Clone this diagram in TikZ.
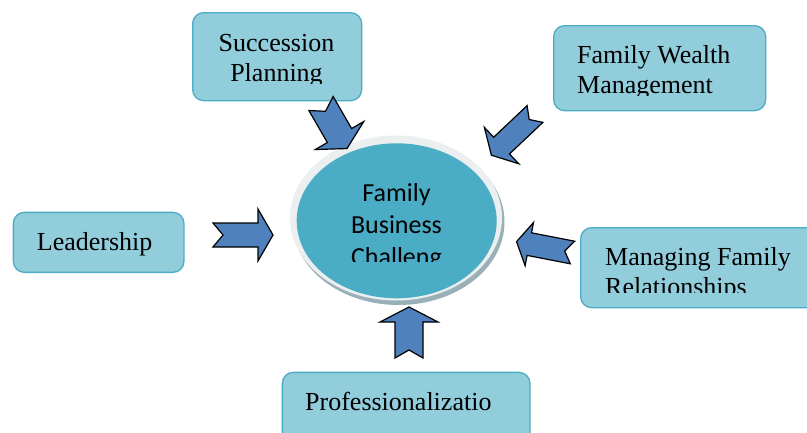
\documentclass[tikz,border=0pt]{standalone}
\usepackage{fontspec}
\setmainfont{Liberation Serif}
\newfontfamily\calfont{Carlito}
\usetikzlibrary{shapes.geometric}
\definecolor{boxfill}{HTML}{92CDDC}
\definecolor{boxline}{HTML}{4BACC6}
\definecolor{ellfill}{HTML}{4BACC6}
\definecolor{arrfill}{HTML}{4F81BD}
\definecolor{ringc}{HTML}{ECEFF0}
\definecolor{shadowc}{HTML}{9AB0B8}
\tikzset{
  box/.style={draw=boxline, fill=boxfill, line width=1.3pt, rounded corners=11pt, inner sep=0pt, anchor=north west},
  boxtext/.style={inner sep=0pt, font=\fontsize{26}{30}\selectfont, text=black},
  elltext/.style={inner sep=0pt, font=\calfont\fontsize{26}{30}\selectfont, text=black, anchor=base},
  blockarrow/.style={draw=black, fill=arrfill, line width=1.2pt, line join=miter},
}
% tail, angle, length, body half, head half, head length, notch
\newcommand{\blockarr}[7]{%
  \begin{scope}[shift={#1}, rotate=#2]
    \draw[blockarrow] (0,#4) -- ({#3-#6},#4) -- ({#3-#6},#5) -- (#3,0)
      -- ({#3-#6},-#5) -- ({#3-#6},-#4) -- (0,-#4) -- (#7,0) -- cycle;
  \end{scope}}
\begin{document}
\begin{tikzpicture}[x=1pt,y=-1pt]
\useasboundingbox (0,0) rectangle (807,432);
\clip (0,0) rectangle (807,432);
\fill[white] (0,0) rectangle (807,432);

% central ellipse
\node[ellipse, fill=shadowc, minimum width=212pt, minimum height=166pt, inner sep=0pt] (shadow) at (398.5,222) {};
\node[ellipse, fill=ringc, minimum width=212pt, minimum height=165pt, inner sep=0pt] (ring) at (396,218) {};
\node[ellipse, fill=ellfill, minimum width=200pt, minimum height=155pt, inner sep=0pt] (core) at (396.7,220.8) {};
\begin{scope}
  \clip (290,140) rectangle (500,261.7);
  \node[elltext] (c1) at (396.5,201.7) {Family};
  \node[elltext] (c2) at (396.5,233.3) {Business};
  \node[elltext] (c3) at (396.5,265) {Challeng};
\end{scope}

% boxes
\node[box, minimum width=169pt, minimum height=88pt] (succ) at (192,12) {};
\begin{scope}
  \clip (192,12) rectangle (361,83.5);
  \node[boxtext, anchor=base] (s1) at (276.5,51.7) {Succession};
  \node[boxtext, anchor=base] (s2) at (276.5,81.7) {Planning};
\end{scope}

\node[box, minimum width=212pt, minimum height=85pt] (wealth) at (553,25) {};
\begin{scope}
  \clip (553,25) rectangle (765,95);
  \node[boxtext, anchor=base west] (w1) at (577,63.3) {Family Wealth};
  \node[boxtext, anchor=base west] (w2) at (577,93.3) {Management};
\end{scope}

\node[box, minimum width=170.6pt, minimum height=60pt] (lead) at (12.7,211.7) {};
\node[boxtext, anchor=base west] (l1) at (36.7,250) {Leadership};

\node[box, minimum width=250pt, minimum height=80pt] (manag) at (580,227) {};
\begin{scope}
  \clip (580,227) rectangle (807,292);
  \node[boxtext, anchor=base west] (m1) at (605,265) {Managing Family};
  \node[boxtext, anchor=base west] (m2) at (605,295) {Relationships};
\end{scope}

\node[box, minimum width=247.6pt, minimum height=90pt] (prof) at (281.7,371.7) {};
\node[boxtext, anchor=base west] (p1) at (305,410) {Professionalizatio};

% block arrows
\blockarr{(321,103.5)}{-60}{52}{14}{28}{15}{9}
\blockarr{(535,114)}{-136.6}{60}{11.5}{25}{14}{8}
\blockarr{(213,235)}{0}{60}{12}{26}{15}{10}
\blockarr{(572.5,252.5)}{169}{57}{11.5}{22}{13}{8}
\blockarr{(409,358)}{90}{51}{14}{29}{15}{8}
\end{tikzpicture}
\end{document}
